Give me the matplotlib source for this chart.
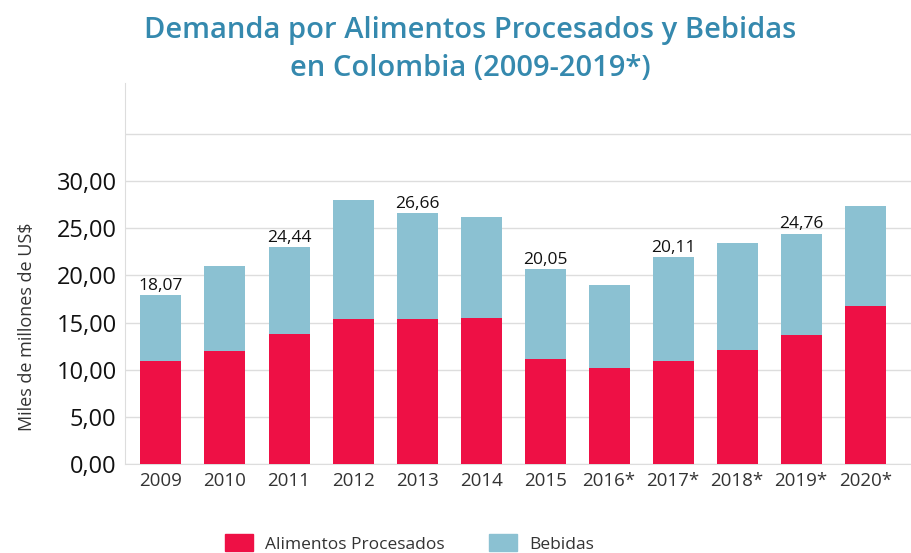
import numpy as np
import matplotlib
matplotlib.use("Agg")
import matplotlib.pyplot as plt
from matplotlib.patches import Patch

plt.rcParams['font.family'] = ['Open Sans', 'DejaVu Sans']

# data (miles de millones de US$)
years = ['2009', '2010', '2011', '2012', '2013', '2014', '2015',
         '2016*', '2017*', '2018*', '2019*', '2020*']
alimentos = [10.9, 12.0, 13.8, 15.4, 15.4, 15.5, 11.1, 10.2, 10.9, 12.1, 13.7, 16.7]
totales = [17.9, 20.95, 23.0, 27.95, 26.6, 26.2, 20.65, 18.95, 21.9, 23.4, 24.4, 27.3]
bebidas = [t - a for t, a in zip(totales, alimentos)]

# labels shown above some bars (as printed in the source)
label_idx = [0, 2, 4, 6, 8, 10]
label_txt = ['18,07', '24,44', '26,66', '20,05', '20,11', '24,76']

red = '#EE1045'
blue = '#8BC1D2'
title_col = '#3589AE'

fig = plt.figure(figsize=(9.12, 5.53), dpi=100)
ax = fig.add_axes([0.137, 0.161, 0.863, 0.689])

x = np.arange(len(years))
ax.bar(x, alimentos, width=0.64, color=red, zorder=3)
ax.bar(x, bebidas, width=0.64, bottom=alimentos, color=blue, zorder=3)

for i, t in zip(label_idx, label_txt):
    ax.annotate(t, (x[i], totales[i]), xytext=(0, 1), textcoords='offset points',
                ha='center', va='bottom', fontsize=12.5, color='#111111')

ax.set_xlim(-0.5625, 11.73)
ax.set_ylim(0, 40.4)
ticks = np.arange(0, 36, 5)
ax.set_yticks(ticks)
ax.set_yticklabels([f'{v:.2f}'.replace('.', ',') if v <= 30 else '' for v in ticks],
                   fontsize=17, color='#111111')
ax.set_xticks(x)
ax.set_xticklabels(years, fontsize=13.5, color='#333333')
ax.tick_params(length=0, pad=6)
ax.tick_params(axis='y', pad=6)

ax.grid(axis='y', color='#dddddd', linewidth=1, zorder=0)
for s in ['top', 'right']:
    ax.spines[s].set_visible(False)
ax.spines['left'].set_color('#dddddd')
ax.spines['bottom'].set_color('#dddddd')

ax.set_ylabel('Miles de millones de US$', fontsize=13, color='#333333')
ax.yaxis.set_label_coords(-0.113, 0.36)

fig.text(0.516, 0.945, 'Demanda por Alimentos Procesados y Bebidas',
         ha='center', va='center', fontsize=21, fontweight='semibold', color=title_col)
fig.text(0.516, 0.876, 'en Colombia (2009-2019*)',
         ha='center', va='center', fontsize=21, fontweight='semibold', color=title_col)

handles = [Patch(color=red, label='Alimentos Procesados'),
           Patch(color=blue, label='Bebidas')]
fig.legend(handles=handles, loc='center', bbox_to_anchor=(0.449, 0.017), ncol=2,
           frameon=False, fontsize=12.5, handlelength=1.6, handleheight=1.1,
           columnspacing=2.6, handletextpad=0.7, labelcolor='#333333')

fig.savefig('out.png', dpi=100)
